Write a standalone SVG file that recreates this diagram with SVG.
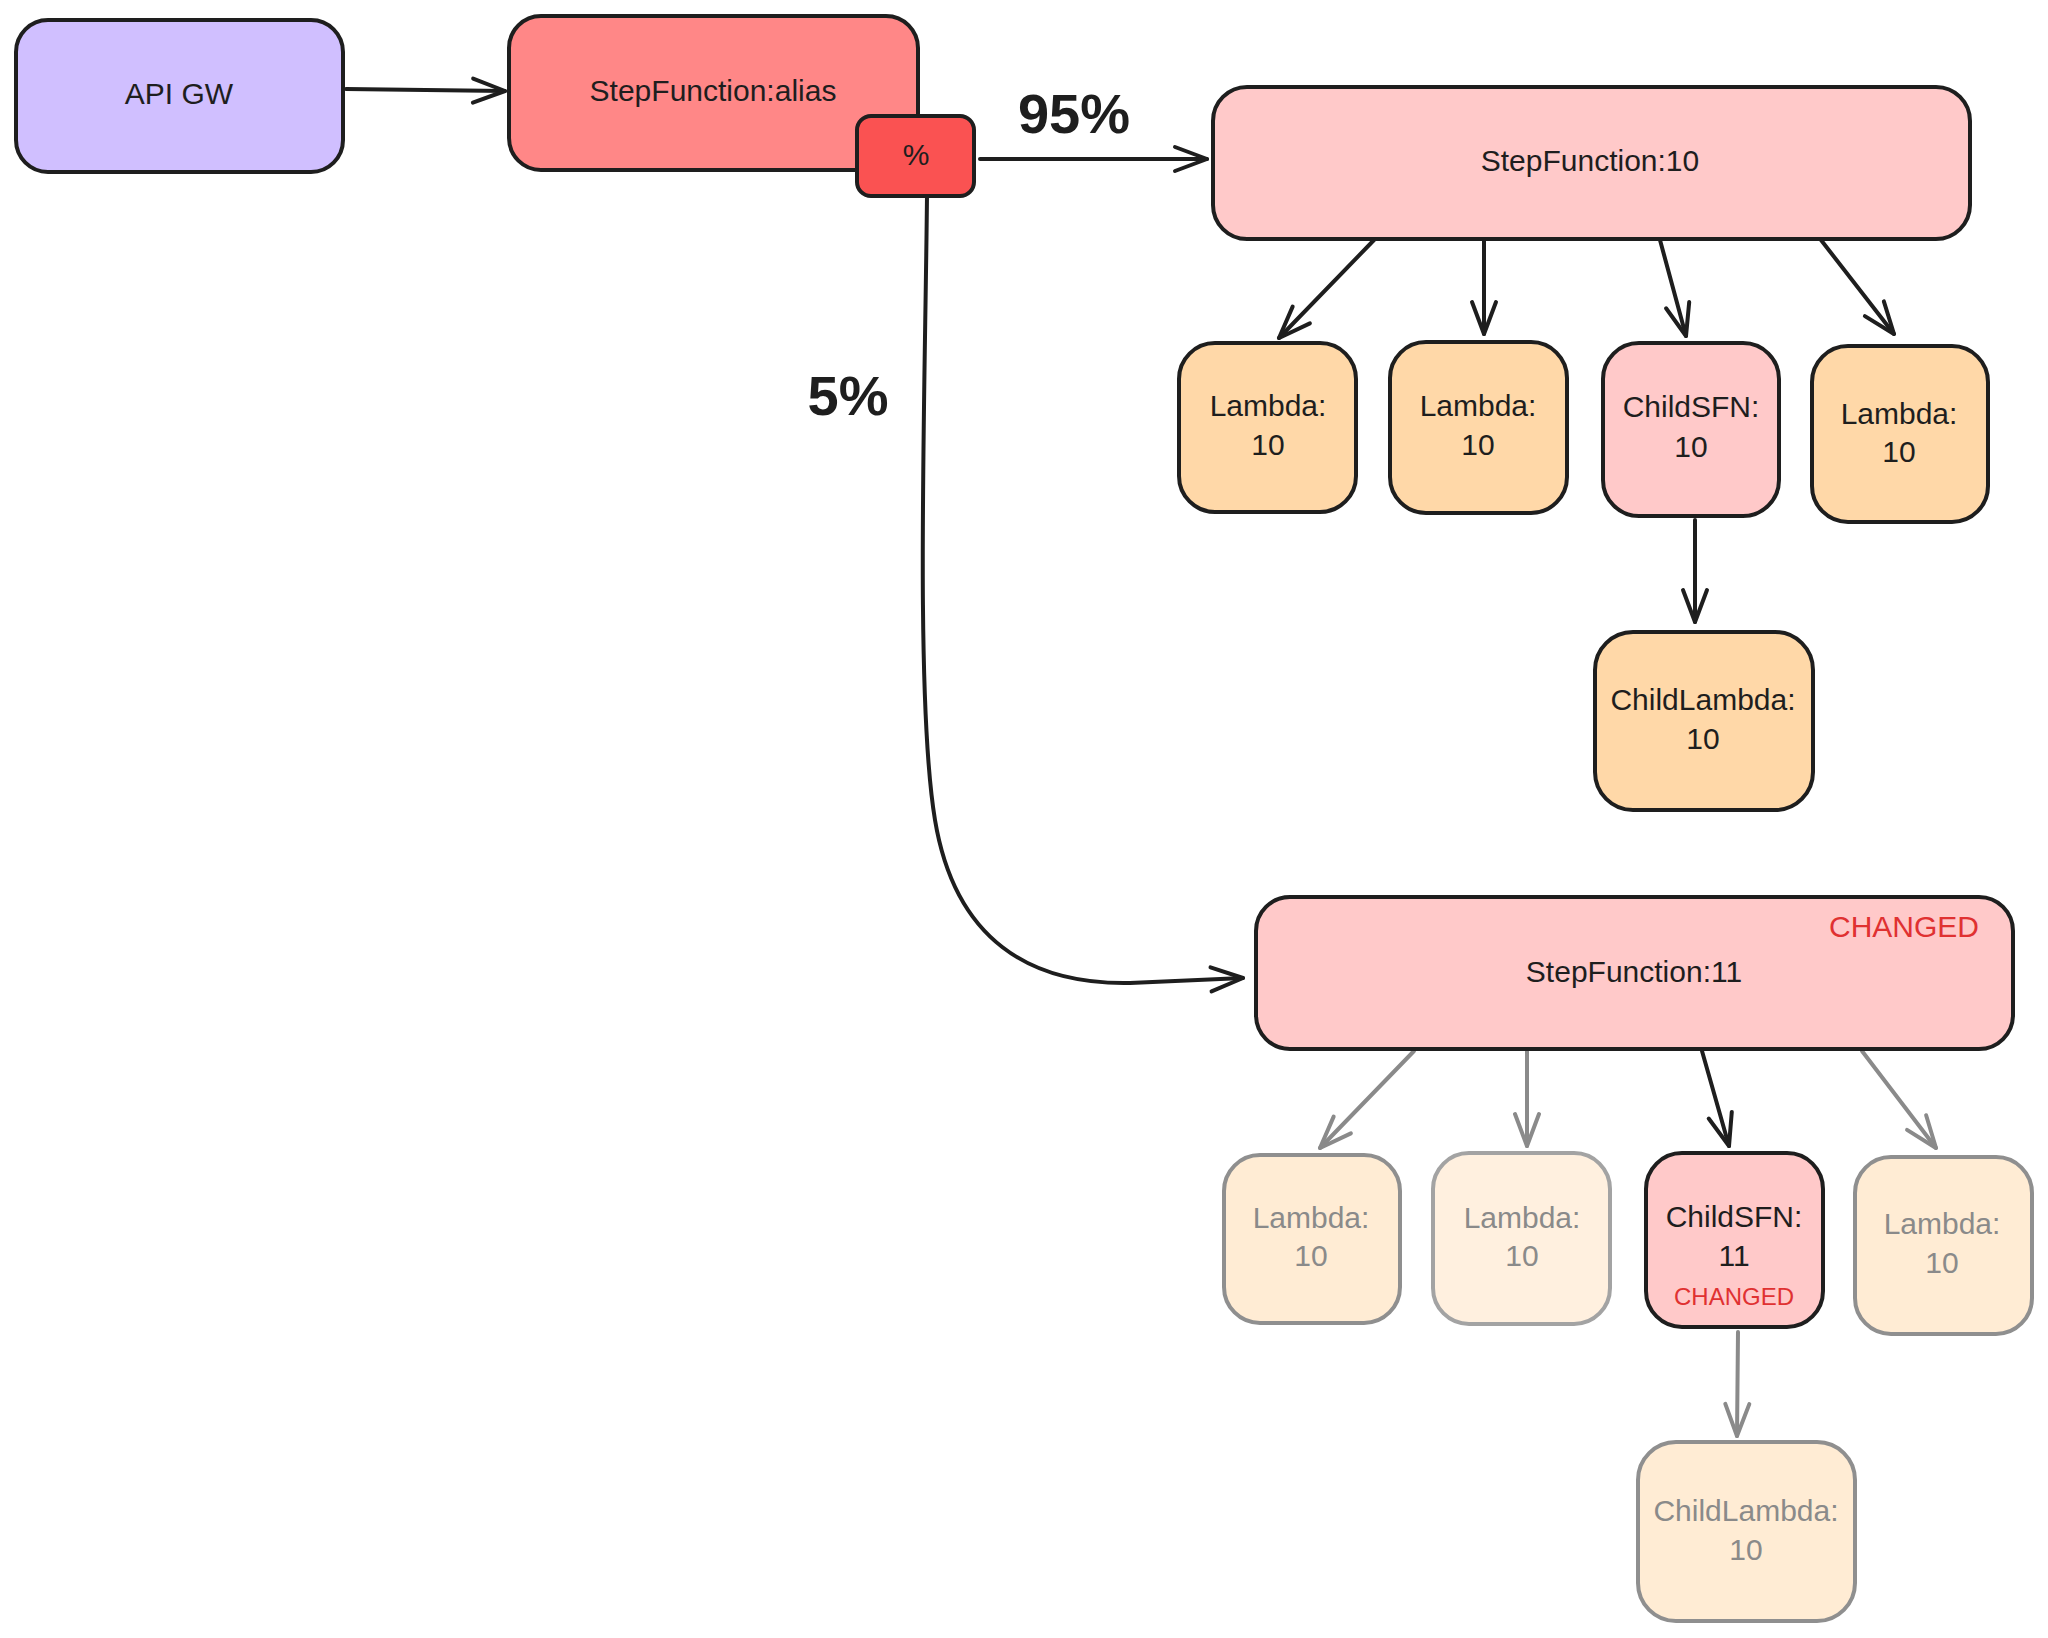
<svg xmlns="http://www.w3.org/2000/svg" width="2048" height="1638" viewBox="0 0 2048 1638">
<style>
.box{stroke:#1e1e1e;stroke-width:4;stroke-linejoin:round}
.faded{stroke:#8f8f8f;stroke-width:4}
.lbl{font-family:"Liberation Sans",Arial,sans-serif;font-size:30px;fill:#1e1e1e;text-anchor:middle}
.glbl{font-family:"Liberation Sans",Arial,sans-serif;font-size:30px;fill:#8a8a8a;text-anchor:middle}
.big{font-family:"Liberation Sans",Arial,sans-serif;font-size:56px;font-weight:bold;fill:#1e1e1e;text-anchor:middle}
.chg{font-family:"Liberation Sans",Arial,sans-serif;fill:#e03131;text-anchor:middle}
.arr{fill:none;stroke:#1e1e1e;stroke-width:4;stroke-linecap:round}
.garr{fill:none;stroke:#8a8a8a;stroke-width:4;stroke-linecap:round}
</style>
<defs>
<marker id="ah" markerUnits="userSpaceOnUse" viewBox="-34 -16 38 32" refX="0" refY="0" markerWidth="38" markerHeight="32" orient="auto" overflow="visible">
<path d="M -32 -12 L 0 0 L -32 12" fill="none" stroke="#1e1e1e" stroke-width="4" stroke-linecap="round" stroke-linejoin="round"/>
</marker>
<marker id="gah" markerUnits="userSpaceOnUse" viewBox="-34 -16 38 32" refX="0" refY="0" markerWidth="38" markerHeight="32" orient="auto" overflow="visible">
<path d="M -32 -12 L 0 0 L -32 12" fill="none" stroke="#8a8a8a" stroke-width="4" stroke-linecap="round" stroke-linejoin="round"/>
</marker>
</defs>
<rect width="2048" height="1638" fill="#ffffff"/>

<g id="connectors">
<path class="arr" d="M 346 89 L 505 91" marker-end="url(#ah)"/>
<path class="arr" d="M 980 159 L 1207 159" marker-end="url(#ah)"/>
<path class="arr" d="M 927 196 C 925 400 915 700 935 820 C 955 940 1030 985 1130 983 L 1243 978" marker-end="url(#ah)"/>
<path class="arr" d="M 1374 240 L 1279 338" marker-end="url(#ah)"/>
<path class="arr" d="M 1484 240 L 1484 334" marker-end="url(#ah)"/>
<path class="arr" d="M 1660 240 L 1686 336" marker-end="url(#ah)"/>
<path class="arr" d="M 1821 240 L 1894 334" marker-end="url(#ah)"/>
<path class="arr" d="M 1695 520 L 1695 622" marker-end="url(#ah)"/>
<path class="garr" d="M 1414 1051 L 1320 1148" marker-end="url(#gah)"/>
<path class="garr" d="M 1527 1051 L 1527 1146" marker-end="url(#gah)"/>
<path class="arr" d="M 1702 1051 L 1729 1146" marker-end="url(#ah)"/>
<path class="garr" d="M 1862 1051 L 1936 1148" marker-end="url(#gah)"/>
<path class="garr" d="M 1738 1332 L 1737 1436" marker-end="url(#gah)"/>
</g>

<g id="label-95">
<text class="big" x="1074" y="133">95%</text>
</g>
<g id="label-5">
<text class="big" x="848" y="415">5%</text>
</g>

<g id="apigw">
<rect class="box" x="16" y="20" width="327" height="152" rx="32" fill="#d0bfff"/>
<text class="lbl" x="179" y="104">API GW</text>
</g>

<g id="sfn-alias">
<rect class="box" x="509" y="16" width="409" height="154" rx="32" fill="#ff8787"/>
<text class="lbl" x="713" y="101">StepFunction:alias</text>
</g>

<g id="pct">
<rect class="box" x="857" y="116" width="117" height="80" rx="14" fill="#fa5252"/>
<text class="lbl" x="916" y="165">%</text>
</g>

<g id="sfn10">
<rect class="box" x="1213" y="87" width="757" height="152" rx="34" fill="#ffc9c9"/>
<text class="lbl" x="1590" y="171">StepFunction:10</text>
</g>

<g id="lambda10-a">
<rect class="box" x="1179" y="343" width="177" height="169" rx="36" fill="#ffd8a8"/>
<text class="lbl" x="1268" y="416">Lambda:</text>
<text class="lbl" x="1268" y="455">10</text>
</g>
<g id="lambda10-b">
<rect class="box" x="1390" y="342" width="177" height="171" rx="36" fill="#ffd8a8"/>
<text class="lbl" x="1478" y="416">Lambda:</text>
<text class="lbl" x="1478" y="455">10</text>
</g>
<g id="childsfn10">
<rect class="box" x="1603" y="343" width="176" height="173" rx="36" fill="#ffc9c9"/>
<text class="lbl" x="1691" y="417">ChildSFN:</text>
<text class="lbl" x="1691" y="457">10</text>
</g>
<g id="lambda10-c">
<rect class="box" x="1812" y="346" width="176" height="176" rx="36" fill="#ffd8a8"/>
<text class="lbl" x="1899" y="424">Lambda:</text>
<text class="lbl" x="1899" y="462">10</text>
</g>
<g id="childlambda10">
<rect class="box" x="1595" y="632" width="218" height="178" rx="38" fill="#ffd8a8"/>
<text class="lbl" x="1703" y="710">ChildLambda:</text>
<text class="lbl" x="1703" y="749">10</text>
</g>

<g id="sfn11">
<rect class="box" x="1256" y="897" width="757" height="152" rx="34" fill="#ffc9c9"/>
<text class="lbl" x="1634" y="982">StepFunction:11</text>
<text class="chg" x="1904" y="937" font-size="30">CHANGED</text>
</g>

<g id="lambda11-a">
<rect class="faded" x="1224" y="1155" width="176" height="168" rx="36" fill="#ffecd4"/>
<text class="glbl" x="1311" y="1228">Lambda:</text>
<text class="glbl" x="1311" y="1266">10</text>
</g>
<g id="lambda11-b">
<rect x="1433" y="1153" width="177" height="171" rx="36" fill="#fff0df" stroke="#a3a3a3" stroke-width="4"/>
<text class="glbl" x="1522" y="1228">Lambda:</text>
<text class="glbl" x="1522" y="1266">10</text>
</g>
<g id="childsfn11">
<rect class="box" x="1646" y="1153" width="177" height="174" rx="36" fill="#ffc9c9"/>
<text class="lbl" x="1734" y="1227">ChildSFN:</text>
<text class="lbl" x="1734" y="1266">11</text>
<text class="chg" x="1734" y="1305" font-size="24">CHANGED</text>
</g>
<g id="lambda11-c">
<rect class="faded" x="1855" y="1157" width="177" height="177" rx="36" fill="#ffecd4"/>
<text class="glbl" x="1942" y="1234">Lambda:</text>
<text class="glbl" x="1942" y="1273">10</text>
</g>
<g id="childlambda11">
<rect class="faded" x="1638" y="1442" width="217" height="179" rx="38" fill="#ffecd4"/>
<text class="glbl" x="1746" y="1521">ChildLambda:</text>
<text class="glbl" x="1746" y="1560">10</text>
</g>
</svg>
